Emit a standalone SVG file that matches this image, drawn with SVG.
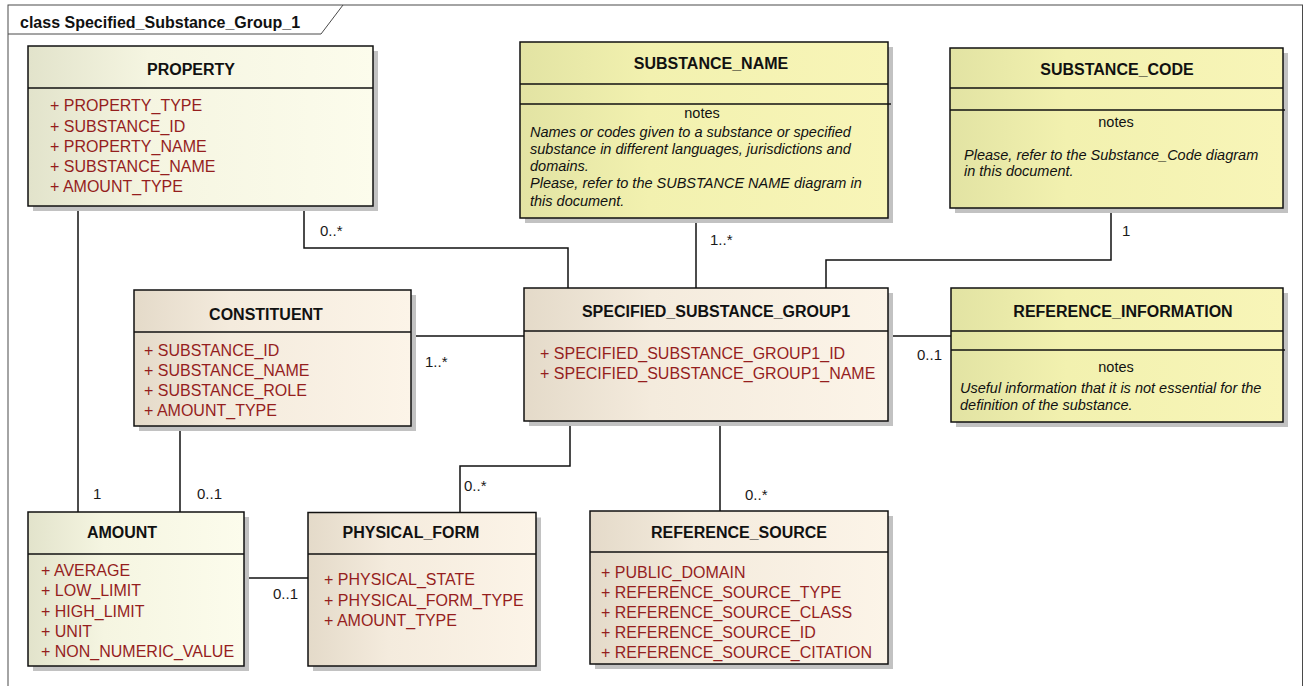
<svg xmlns="http://www.w3.org/2000/svg" width="1311" height="686" viewBox="0 0 1311 686">
  <style>
    .frame { fill: none; stroke: #4a4a4a; stroke-width: 1; }
    .box { stroke: #111; stroke-width: 1.5; }
    .sep { stroke: #111; stroke-width: 1.5; fill: none; }
    .shadow { fill: #c2c2c2; }
    .title { font-family: "Liberation Sans", Arial, sans-serif; font-size: 16px; font-weight: bold; fill: #111; text-anchor: middle; }
    .frametitle { font-family: "Liberation Sans", Arial, sans-serif; font-size: 16px; font-weight: bold; fill: #111; }
    .attr { font-family: "Liberation Sans", Arial, sans-serif; font-size: 16px; fill: #951e1e; }
    .notes { font-family: "Liberation Sans", Arial, sans-serif; font-size: 14.5px; fill: #111; text-anchor: middle; }
    .note { font-family: "Liberation Sans", Arial, sans-serif; font-size: 14.5px; font-style: italic; fill: #111; }
    .lbl { font-family: "Liberation Sans", Arial, sans-serif; font-size: 15px; fill: #1a1a1a; }
    .conn { fill: none; stroke: #111; stroke-width: 1.5; }
  </style>
  <defs>
    <linearGradient id="gCream" x1="0" y1="0" x2="1" y2="0">
      <stop offset="0" stop-color="#e2e3cb"/>
      <stop offset="0.35" stop-color="#f5f5e1"/>
      <stop offset="1" stop-color="#fcfcec"/>
    </linearGradient>
    <linearGradient id="gBeige" x1="0" y1="0" x2="1" y2="0">
      <stop offset="0" stop-color="#e4dac9"/>
      <stop offset="0.35" stop-color="#f4ebdd"/>
      <stop offset="1" stop-color="#fcf4e8"/>
    </linearGradient>
    <linearGradient id="gYellow" x1="0" y1="0" x2="1" y2="0">
      <stop offset="0" stop-color="#e2e3a3"/>
      <stop offset="0.35" stop-color="#f2f1af"/>
      <stop offset="1" stop-color="#f8f5b8"/>
    </linearGradient>
  </defs>

  <rect width="1311" height="686" fill="#ffffff"/>

  <!-- package frame -->
  <g id="frame">
    <rect class="frame" x="8" y="5" width="1294.5" height="720"/>
    <path class="frame" d="M8,34 H321 L343,5"/>
    <text class="frametitle" x="20" y="28">class Specified_Substance_Group_1</text>
  </g>

  <!-- associations -->
  <g id="connectors">
    <path class="conn" d="M304,206 V248 H568 V288"/>
    <path class="conn" d="M696,218 V288"/>
    <path class="conn" d="M1111,208 V260 H826 V288"/>
    <path class="conn" d="M411,336 H524"/>
    <path class="conn" d="M888,336 H951"/>
    <path class="conn" d="M570,421 V466 H460 V512"/>
    <path class="conn" d="M720,421 V511"/>
    <path class="conn" d="M78,206 V512"/>
    <path class="conn" d="M180,426 V512"/>
    <path class="conn" d="M244,578 H308"/>
    <text class="lbl" x="320" y="236">0..*</text>
    <text class="lbl" x="710" y="245">1..*</text>
    <text class="lbl" x="1122" y="236">1</text>
    <text class="lbl" x="425" y="367">1..*</text>
    <text class="lbl" x="917" y="360">0..1</text>
    <text class="lbl" x="464" y="491">0..*</text>
    <text class="lbl" x="745" y="500">0..*</text>
    <text class="lbl" x="93" y="499">1</text>
    <text class="lbl" x="197" y="499">0..1</text>
    <text class="lbl" x="273" y="599">0..1</text>
  </g>

  <g id="PROPERTY">
    <rect class="shadow" x="33" y="51" width="345" height="160"/>
    <rect class="box" x="28" y="46" width="345" height="160" fill="url(#gCream)"/>
    <line class="sep" x1="28" y1="88" x2="373" y2="88"/>
    <text class="title" x="191" y="75">PROPERTY</text>
    <text class="attr" x="50" y="111">+ PROPERTY_TYPE</text>
    <text class="attr" x="50" y="131.5">+ SUBSTANCE_ID</text>
    <text class="attr" x="50" y="151.5">+ PROPERTY_NAME</text>
    <text class="attr" x="50" y="171.5">+ SUBSTANCE_NAME</text>
    <text class="attr" x="50" y="191.5">+ AMOUNT_TYPE</text>
  </g>

  <g id="SUBSTANCE_NAME">
    <rect class="shadow" x="525" y="47" width="368" height="176"/>
    <rect class="box" x="520" y="42" width="368" height="176" fill="url(#gYellow)"/>
    <line class="sep" x1="520" y1="84" x2="888" y2="84"/>
    <line class="sep" x1="520" y1="104" x2="891" y2="104"/>
    <text class="title" x="711" y="69">SUBSTANCE_NAME</text>
    <text class="notes" x="702" y="118">notes</text>
    <text class="note" x="530" y="137">Names or codes given to a substance or specified</text>
    <text class="note" x="530" y="154">substance in different languages, jurisdictions and</text>
    <text class="note" x="530" y="171">domains.</text>
    <text class="note" x="530" y="188">Please, refer to the SUBSTANCE NAME diagram in</text>
    <text class="note" x="530" y="205.5">this document.</text>
  </g>

  <g id="SUBSTANCE_CODE">
    <rect class="shadow" x="955" y="53" width="333" height="160"/>
    <rect class="box" x="950" y="48" width="333" height="160" fill="url(#gYellow)"/>
    <line class="sep" x1="950" y1="88" x2="1283" y2="88"/>
    <line class="sep" x1="950" y1="110" x2="1285" y2="110"/>
    <text class="title" x="1117" y="75">SUBSTANCE_CODE</text>
    <text class="notes" x="1116" y="127">notes</text>
    <text class="note" x="964" y="160">Please, refer to the Substance_Code diagram</text>
    <text class="note" x="964" y="176">in this document.</text>
  </g>

  <g id="CONSTITUENT">
    <rect class="shadow" x="139" y="295" width="277" height="136"/>
    <rect class="box" x="134" y="290" width="277" height="136" fill="url(#gBeige)"/>
    <line class="sep" x1="134" y1="332" x2="411" y2="332"/>
    <text class="title" x="266" y="320">CONSTITUENT</text>
    <text class="attr" x="144" y="356">+ SUBSTANCE_ID</text>
    <text class="attr" x="144" y="376">+ SUBSTANCE_NAME</text>
    <text class="attr" x="144" y="396">+ SUBSTANCE_ROLE</text>
    <text class="attr" x="144" y="416">+ AMOUNT_TYPE</text>
  </g>

  <g id="SPECIFIED_SUBSTANCE_GROUP1">
    <rect class="shadow" x="529" y="293" width="364" height="133"/>
    <rect class="box" x="524" y="288" width="364" height="133" fill="url(#gBeige)"/>
    <line class="sep" x1="524" y1="331" x2="888" y2="331"/>
    <text class="title" x="716" y="317">SPECIFIED_SUBSTANCE_GROUP1</text>
    <text class="attr" x="540" y="359">+ SPECIFIED_SUBSTANCE_GROUP1_ID</text>
    <text class="attr" x="540" y="379">+ SPECIFIED_SUBSTANCE_GROUP1_NAME</text>
  </g>

  <g id="REFERENCE_INFORMATION">
    <rect class="shadow" x="956" y="293" width="332" height="134"/>
    <rect class="box" x="951" y="288" width="332" height="134" fill="url(#gYellow)"/>
    <line class="sep" x1="951" y1="331" x2="1283" y2="331"/>
    <line class="sep" x1="951" y1="350" x2="1285" y2="350"/>
    <text class="title" x="1123" y="317">REFERENCE_INFORMATION</text>
    <text class="notes" x="1116" y="372">notes</text>
    <text class="note" x="960" y="393">Useful information that it is not essential for the</text>
    <text class="note" x="960" y="410">definition of the substance.</text>
  </g>

  <g id="AMOUNT">
    <rect class="shadow" x="33" y="517" width="216" height="154"/>
    <rect class="box" x="28" y="512" width="216" height="154" fill="url(#gCream)"/>
    <line class="sep" x1="28" y1="554" x2="244" y2="554"/>
    <text class="title" x="122" y="538">AMOUNT</text>
    <text class="attr" x="41" y="576">+ AVERAGE</text>
    <text class="attr" x="41" y="596">+ LOW_LIMIT</text>
    <text class="attr" x="41" y="616.5">+ HIGH_LIMIT</text>
    <text class="attr" x="41" y="636.5">+ UNIT</text>
    <text class="attr" x="41" y="656.5">+ NON_NUMERIC_VALUE</text>
  </g>

  <g id="PHYSICAL_FORM">
    <rect class="shadow" x="313" y="517.5" width="228" height="153.5"/>
    <rect class="box" x="308" y="512.5" width="228" height="153.5" fill="url(#gBeige)"/>
    <line class="sep" x1="308" y1="554" x2="536" y2="554"/>
    <text class="title" x="411" y="538">PHYSICAL_FORM</text>
    <text class="attr" x="324" y="585">+ PHYSICAL_STATE</text>
    <text class="attr" x="324" y="605.5">+ PHYSICAL_FORM_TYPE</text>
    <text class="attr" x="324" y="625.5">+ AMOUNT_TYPE</text>
  </g>

  <g id="REFERENCE_SOURCE">
    <rect class="shadow" x="595" y="516" width="298" height="153"/>
    <rect class="box" x="590" y="511" width="298" height="153" fill="url(#gBeige)"/>
    <line class="sep" x1="590" y1="552" x2="888" y2="552"/>
    <text class="title" x="739" y="538">REFERENCE_SOURCE</text>
    <text class="attr" x="601" y="577.5">+ PUBLIC_DOMAIN</text>
    <text class="attr" x="601" y="597.5">+ REFERENCE_SOURCE_TYPE</text>
    <text class="attr" x="601" y="617.5">+ REFERENCE_SOURCE_CLASS</text>
    <text class="attr" x="601" y="637.5">+ REFERENCE_SOURCE_ID</text>
    <text class="attr" x="601" y="657.5">+ REFERENCE_SOURCE_CITATION</text>
  </g>
</svg>
